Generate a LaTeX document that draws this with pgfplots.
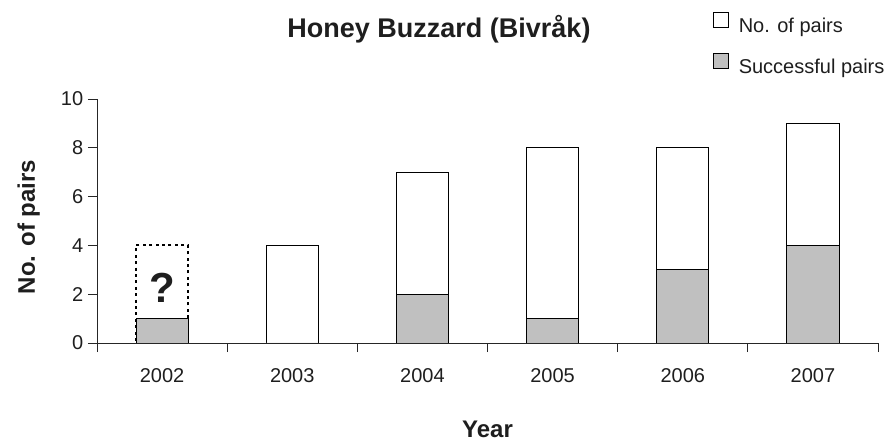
\documentclass[border=0pt]{standalone}
\usepackage{pgfplots}
\pgfplotsset{compat=1.18}
\usepackage{fontspec}
\setmainfont{Liberation Sans}
\definecolor{barGray}{HTML}{C0C0C0}
\definecolor{txt}{HTML}{1E1E1E}
\pgfplotsset{
  mybar/.style={ybar, bar width=0.4, bar shift=0pt, draw=black, line width=0.8pt,
    legend image code/.code={\draw[##1,solid,line width=0.8pt] (0pt,0pt) rectangle (15pt,15pt);}},
}
\begin{document}
\begin{tikzpicture}
\begin{axis}[
  scale only axis, width=781pt, height=244pt,
  xmin=-0.5, xmax=5.5, ymin=0, ymax=10,
  axis x line*=bottom, axis y line*=left,
  axis line style={-, black!85, line width=0.8pt},
  xtick={0,1,2,3,4,5},
  xticklabels={2002,2003,2004,2005,2006,2007},
  major x tick style={draw=none},
  minor xtick={-0.5,0.5,1.5,2.5,3.5,4.5,5.5},
  ytick={0,2,4,6,8,10},
  tick align=outside,
  major tick length=9pt, minor tick length=9pt,
  tick style={black!85, line width=0.8pt},
  ticklabel style={font=\fontsize{20}{24}\selectfont, text=txt},
  /pgf/number format/assume math mode=true,
  xticklabel style={yshift=-13pt},
  yticklabel style={xshift=-1.3pt},
  legend style={at={(rel axis cs:0.7887,1.3566)}, anchor=north west, draw=none, fill=none,
    inner sep=0pt, outer sep=0pt, row sep=16pt, font=\fontsize{20}{24}\selectfont, text=txt,
    nodes={inner sep=0pt, text height=15pt, text depth=5pt},
    /tikz/every odd column/.append style={column sep=10pt}},
  legend cell align=left,
]
\addplot[mybar, fill=none, line width=1.9pt, dash pattern=on 3pt off 3.4pt, forget plot] coordinates {(0,4)};
\addplot[mybar, fill=white] coordinates {(1,4) (2,7) (3,8) (4,8) (5,9)};
\addlegendentry{No. of pairs}
\addplot[mybar, fill=barGray] coordinates {(0,1) (1,0) (2,2) (3,1) (4,3) (5,4)};
\addlegendentry{Successful pairs}
\node[font=\fontsize{42}{48}\selectfont\bfseries, text=txt, anchor=base] at (axis cs:0,1.66) {?};
\coordinate (O) at (rel axis cs:0,0);
\end{axis}
\node[anchor=base, font=\fontsize{27}{32}\selectfont\bfseries, text=txt] at ([shift={(342pt,305pt)}]O) {Honey Buzzard (Bivråk)};
\node[anchor=base, rotate=90, font=\fontsize{24}{28}\selectfont\bfseries, text=txt] at ([shift={(-62pt,116pt)}]O) {No. of pairs};
\node[anchor=base, font=\fontsize{24}{28}\selectfont\bfseries, text=txt] at ([shift={(390.5pt,-94pt)}]O) {Year};
\pgfresetboundingbox
\path[use as bounding box] ([shift={(-97pt,-98pt)}]O) rectangle ([shift={(791pt,343pt)}]O);
\end{tikzpicture}
\end{document}
